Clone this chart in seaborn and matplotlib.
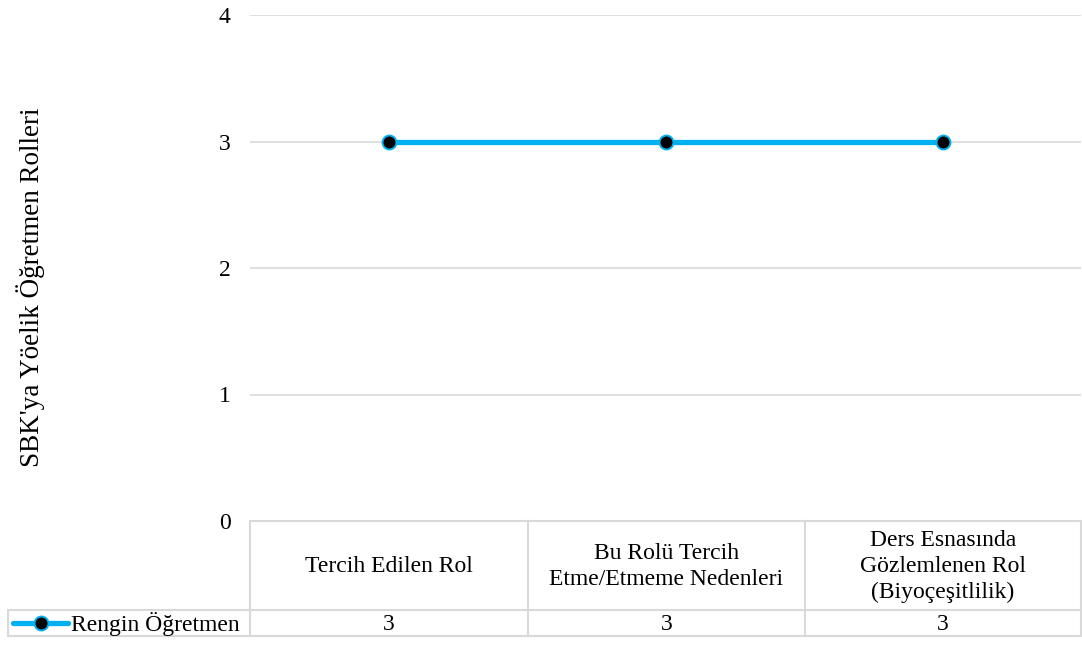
import matplotlib
matplotlib.use("Agg")
import matplotlib.pyplot as plt
from matplotlib.lines import Line2D
import seaborn as sns
import pandas as pd

# Chart data
categories = ["Tercih Edilen Rol",
              "Bu Rolü Tercih\nEtme/Etmeme Nedenleri",
              "Ders Esnasında\nGözlemlenen Rol\n(Biyoçeşitlilik)"]
series_name = "Rengin Öğretmen"
values = [3, 3, 3]
y_ticks = [0, 1, 2, 3, 4]
y_label = "SBK'ya Yöelik Öğretmen Rolleri"

LINE_COLOR = "#00B0F0"
GRID_COLOR = "#D9D9D9"
FONT = "Liberation Serif"
FS = 17

sns.set_theme(style="white")
plt.rcParams["font.family"] = [FONT, "DejaVu Serif"]

W, H = 1082, 646
fig = plt.figure(figsize=(W / 100, H / 100), dpi=100)

def fx(x):
    return x / W

def fy(y):
    return 1 - y / H

ax_left, ax_right, ax_top, ax_bottom = 250, 1081, 15, 521
ax = fig.add_axes([fx(ax_left), fy(ax_bottom), fx(ax_right - ax_left), fy(ax_top) - fy(ax_bottom)])

df = pd.DataFrame({"cat": range(len(categories)), "val": values})
sns.lineplot(data=df, x="cat", y="val", ax=ax, color=LINE_COLOR, linewidth=3.8,
             marker="o", markersize=10, markerfacecolor="black",
             markeredgecolor=LINE_COLOR, markeredgewidth=1.4, zorder=3)

ax.set_xlim(-0.5, len(categories) - 0.5)
ax.set_ylim(y_ticks[0], y_ticks[-1])
ax.set_yticks(y_ticks)
ax.set_yticklabels([str(t) for t in y_ticks], fontsize=FS, color="black")
ax.tick_params(axis="y", length=0, pad=14)
ax.set_xticks([])
ax.set_xlabel("")
ax.yaxis.grid(True, color=GRID_COLOR, linewidth=1.2)
ax.set_axisbelow(True)
for s in ax.spines.values():
    s.set_visible(False)

ax.set_ylabel(y_label, fontsize=19.5, color="black")
ax.yaxis.set_label_coords((45 - ax_left) / (ax_right - ax_left), (ax_bottom - 287) / (ax_bottom - ax_top))

# Data table below the plot
row_mid, row_bot = 610, 636
col_edges = [250, 528, 805, 1081]

def hline(y, x0, x1):
    fig.add_artist(Line2D([fx(x0), fx(x1)], [fy(y), fy(y)], color=GRID_COLOR,
                          linewidth=1.5, transform=fig.transFigure))

def vline(x, y0, y1):
    fig.add_artist(Line2D([fx(x), fx(x)], [fy(y0), fy(y1)], color=GRID_COLOR,
                          linewidth=1.5, transform=fig.transFigure))

hline(ax_bottom, col_edges[0], col_edges[-1])
hline(row_mid, 8, col_edges[-1])
hline(row_bot, 8, col_edges[-1])
for x in col_edges:
    vline(x, ax_bottom, row_bot)
vline(8, row_mid, row_bot)

for i, (cat, v) in enumerate(zip(categories, values)):
    cx = (col_edges[i] + col_edges[i + 1]) / 2
    fig.text(fx(cx), fy((ax_bottom + row_mid) / 2 + 1), cat, ha="center", va="center",
             fontsize=FS, linespacing=1.33, color="black")
    fig.text(fx(cx), fy((row_mid + row_bot) / 2 + 1), f"{v:g}", ha="center", va="center",
             fontsize=FS, color="black")

# Legend key inside the table's first column
key_y = (row_mid + row_bot) / 2
fig.add_artist(Line2D([fx(13), fx(68)], [fy(key_y), fy(key_y)], color=LINE_COLOR,
                      linewidth=3.8, transform=fig.transFigure))
fig.add_artist(Line2D([fx(40.5)], [fy(key_y)], marker="o", markersize=10,
                      markerfacecolor="black", markeredgecolor=LINE_COLOR,
                      markeredgewidth=1.4, transform=fig.transFigure))
fig.text(fx(71), fy(key_y + 1), series_name, ha="left", va="center", fontsize=FS, color="black")

fig.savefig("out.png", dpi=100)
